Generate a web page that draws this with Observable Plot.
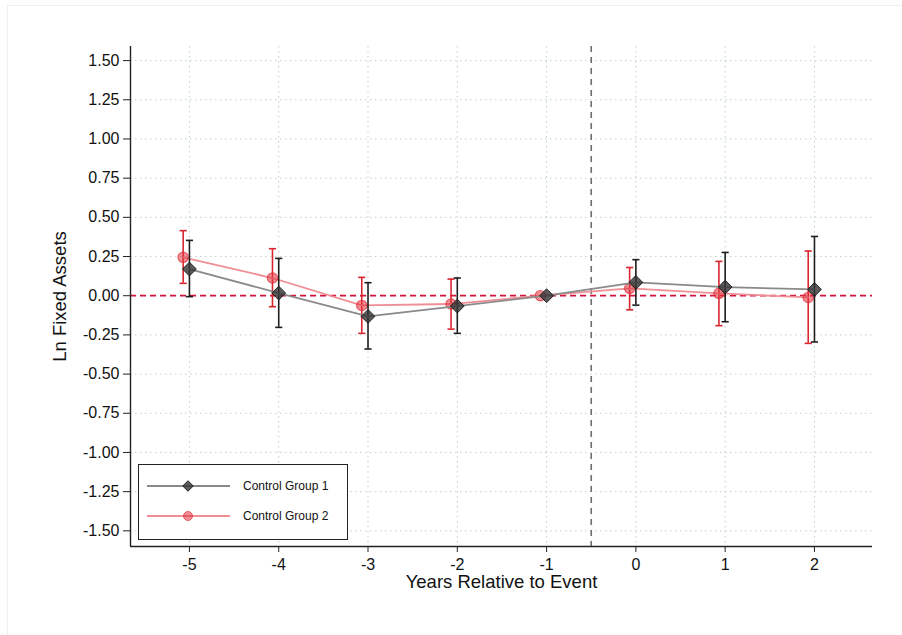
<!DOCTYPE html>
<html>
<head>
<meta charset="utf-8">
<script src="https://cdn.jsdelivr.net/npm/d3@7"></script>
<script src="https://cdn.jsdelivr.net/npm/@observablehq/plot@0.6"></script>
<style>
  body { margin: 0; background: #fff; }
  #wrap { position: relative; width: 902px; height: 635px; font-family: "Liberation Sans", Arial, Helvetica, sans-serif; }
  #frame { position: absolute; left: 7px; top: 5px; right: 0; bottom: 0; border-left: 1px solid #f0f0f0; border-top: 1px solid #f0f0f0; pointer-events: none; }
  #legend { position: absolute; left: 138px; top: 464px; width: 208px; height: 74px; border: 1px solid #222; background: #fff; }
  #wrap svg g[aria-label$="tick label"] { font-size: 16px; }
</style>
</head>
<body>
<div id="wrap"><div id="frame"></div></div>
<script>
const years = [-5, -4, -3, -2, -1, 0, 1, 2];
const g1Est = [0.170, 0.017, -0.132, -0.066, 0, 0.085, 0.055, 0.040];
const g1Lo  = [-0.006, -0.202, -0.340, -0.240, 0, -0.060, -0.166, -0.295];
const g1Hi  = [0.353, 0.238, 0.083, 0.113, 0, 0.230, 0.276, 0.378];
const g2Est = [0.245, 0.113, -0.062, -0.053, 0, 0.047, 0.015, -0.011];
const g2Lo  = [0.079, -0.070, -0.240, -0.213, 0, -0.090, -0.191, -0.304];
const g2Hi  = [0.415, 0.300, 0.117, 0.106, 0, 0.180, 0.219, 0.285];
const yTicks = [1.5, 1.25, 1, 0.75, 0.5, 0.25, 0, -0.25, -0.5, -0.75, -1, -1.25, -1.5];
const seriesNames = ["Control Group 1", "Control Group 2"];
const xDomain = [-5.66, 2.65];
const yDomain = [-1.6, 1.59];
const eventLine = -0.5;
const g2Offset = -0.07;
const capHalf = 0.04;

const s1 = years.map((x, i) => ({x, est: g1Est[i], lo: g1Lo[i], hi: g1Hi[i]}));
const s2 = years.map((x, i) => ({x: x + g2Offset, est: g2Est[i], lo: g2Lo[i], hi: g2Hi[i]}));
const ci1 = s1.filter(d => d.lo !== d.hi);
const ci2 = s2.filter(d => d.lo !== d.hi);

const loc = d3.formatLocale({decimal: ".", thousands: ",", grouping: [3], currency: ["", ""], minus: "-"});
const fmtY = loc.format(".2f");
const fmtX = loc.format("d");

const c1Line = "#8a8a8a", c1Bar = "#1e1e1e", c1Dot = "#333333";
const c2Line = "#ef8e95", c2Bar = "#d8262f", c2Dot = "#e2323c";
const gridColor = "#bfcfd2";

function errMarks(ci, color) {
  return [
    Plot.ruleX(ci, {x: "x", y1: "lo", y2: "hi", stroke: color, strokeWidth: 1.6}),
    Plot.link(ci, {x1: d => d.x - capHalf, x2: d => d.x + capHalf, y1: "hi", y2: "hi", stroke: color, strokeWidth: 1.6}),
    Plot.link(ci, {x1: d => d.x - capHalf, x2: d => d.x + capHalf, y1: "lo", y2: "lo", stroke: color, strokeWidth: 1.6})
  ];
}

const chart = Plot.plot({
  width: 902,
  height: 635,
  marginLeft: 130,
  marginRight: 30,
  marginTop: 46,
  marginBottom: 89,
  style: {fontFamily: '"Liberation Sans", Arial, Helvetica, sans-serif', fontSize: "16px", color: "#111", background: "transparent"},
  x: {domain: xDomain, ticks: years, label: null},
  y: {domain: yDomain, ticks: yTicks, label: null},
  marks: [
    Plot.gridY(yTicks, {stroke: gridColor, strokeOpacity: 1, strokeDasharray: "1.5,3.5", strokeWidth: 1}),
    Plot.gridX(years, {stroke: gridColor, strokeOpacity: 1, strokeDasharray: "1.5,3.5", strokeWidth: 1}),
    Plot.ruleX([eventLine], {stroke: "#6e6e6e", strokeWidth: 1.6, strokeDasharray: "6,5"}),
    Plot.ruleY([0], {stroke: "#d4143c", strokeWidth: 1.7, strokeDasharray: "6,4"}),
    Plot.ruleX([xDomain[0]], {stroke: "#222", strokeWidth: 1.4}),
    Plot.ruleY([yDomain[0]], {stroke: "#222", strokeWidth: 1.4}),
    Plot.axisY(yTicks, {tickFormat: fmtY, tickSize: 7, tickPadding: 4, fontSize: 16, stroke: "#222", fill: "#111", label: null}),
    Plot.axisX(years, {tickFormat: fmtX, tickSize: 6, tickPadding: 6, fontSize: 16, stroke: "#222", fill: "#111", label: null}),
    Plot.text(["Years Relative to Event"], {frameAnchor: "bottom", dy: 36, fontSize: 18.5, fill: "#111", lineAnchor: "middle"}),
    Plot.text(["Ln Fixed Assets"], {frameAnchor: "left", dx: -70, rotate: -90, textAnchor: "middle", fontSize: 18.5, fill: "#111"}),
    ...errMarks(ci2, c2Bar),
    Plot.line(s2, {x: "x", y: "est", stroke: c2Line, strokeWidth: 1.8}),
    Plot.dot(s2, {x: "x", y: "est", r: 5.2, fill: c2Dot, fillOpacity: 0.55, stroke: c2Dot, strokeOpacity: 0.7, strokeWidth: 1.2}),
    ...errMarks(ci1, c1Bar),
    Plot.line(s1, {x: "x", y: "est", stroke: c1Line, strokeWidth: 1.8}),
    Plot.dot(s1, {x: "x", y: "est", symbol: "diamond2", r: 6.2, fill: c1Dot, fillOpacity: 0.8, stroke: "#222", strokeWidth: 1})
  ]
});
document.getElementById("wrap").appendChild(chart);

// legend
const legend = document.createElement("div");
legend.id = "legend";
document.getElementById("wrap").appendChild(legend);
const lsvg = d3.select(legend).append("svg").attr("width", 208).attr("height", 74);
const rows = [
  {name: seriesNames[0], y: 21, line: c1Line, kind: "diamond"},
  {name: seriesNames[1], y: 51, line: c2Line, kind: "circle"}
];
rows.forEach(r => {
  lsvg.append("line").attr("x1", 8).attr("x2", 91).attr("y1", r.y).attr("y2", r.y).attr("stroke", r.line).attr("stroke-width", 1.8);
  if (r.kind === "diamond") {
    lsvg.append("path").attr("d", d3.symbol(d3.symbolDiamond2, 70)()).attr("transform", `translate(49,${r.y})`)
      .attr("fill", c1Dot).attr("fill-opacity", 0.8).attr("stroke", "#222");
  } else {
    lsvg.append("circle").attr("cx", 49).attr("cy", r.y).attr("r", 4.5)
      .attr("fill", c2Dot).attr("fill-opacity", 0.55).attr("stroke", c2Dot).attr("stroke-opacity", 0.7);
  }
  lsvg.append("text").attr("x", 104).attr("y", r.y).attr("dy", "0.35em").attr("font-size", 12)
    .attr("font-family", '"Liberation Sans", Arial, sans-serif').attr("fill", "#111").text(r.name);
});
</script>
</body>
</html>
